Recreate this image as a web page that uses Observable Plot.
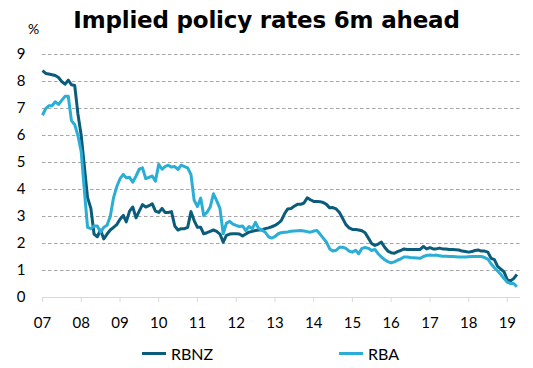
<!DOCTYPE html>
<html>
<head>
<meta charset="utf-8">
<script src="https://cdn.jsdelivr.net/npm/d3@7"></script>
<script src="https://cdn.jsdelivr.net/npm/@observablehq/plot@0.6"></script>
<style>
  body { margin: 0; background: #fff; }
  #wrap { position: relative; width: 533px; height: 368px; font-family: Lato, "Open Sans", sans-serif; color: #000; overflow: hidden; }
  #title { position: absolute; top: 7px; left: 0; width: 533px; text-align: center; font: bold 23px "DejaVu Sans", sans-serif; line-height: 26px; letter-spacing: -0.2px; }
  #pct { position: absolute; left: 28px; top: 21px; font-size: 14px; line-height: 16px; }
  #chart { position: absolute; top: 0; left: 0; }
  .lg { position: absolute; top: 345px; font-size: 16px; line-height: 18px; }
  .sw { position: absolute; top: 352px; width: 24px; height: 3px; }
</style>
</head>
<body>
<div id="wrap">
  <div id="chart"></div>
  <div id="title">Implied policy rates 6m ahead</div>
  <div id="pct">%</div>
  <div class="sw" id="sw1"></div><div class="lg" id="lg1"></div>
  <div class="sw" id="sw2"></div><div class="lg" id="lg2"></div>
</div>
<script>
// Monthly series, Jan 2007 onward (as labelled on the chart's axis)
const seriesNames = ["RBNZ", "RBA"];
const seriesColors = ["#0b5c7a", "#2aaed5"];
const rbnz = [
  8.40, 8.30, 8.28, 8.25, 8.22, 8.15, 8.00, 7.90, 8.05, 7.88, 7.85, 6.80,
  6.00, 4.80, 3.70, 3.30, 2.35, 2.25, 2.50, 2.17, 2.35, 2.50, 2.60, 2.70,
  2.90, 3.04, 2.80, 3.20, 3.35, 2.95, 3.20, 3.44, 3.35, 3.40, 3.47, 3.20,
  3.15, 3.30, 3.15, 3.15, 3.18, 2.65, 2.50, 2.55, 2.55, 2.60, 3.18, 2.85,
  2.60, 2.60, 2.36, 2.40, 2.45, 2.50, 2.45, 2.35, 2.05, 2.30, 2.35, 2.36,
  2.36, 2.35, 2.28, 2.35, 2.42, 2.45, 2.48, 2.50, 2.50, 2.55, 2.58, 2.62,
  2.67, 2.75, 2.85, 3.10, 3.28, 3.30, 3.38, 3.45, 3.45, 3.50, 3.69, 3.62,
  3.56, 3.56, 3.55, 3.52, 3.45, 3.32, 3.33, 3.28, 3.15, 2.93, 2.70, 2.58,
  2.52, 2.52, 2.50, 2.47, 2.40, 2.20, 2.00, 1.93, 1.98, 2.05, 1.86, 1.72,
  1.66, 1.64, 1.70, 1.74, 1.80, 1.78, 1.78, 1.78, 1.78, 1.78, 1.89, 1.80,
  1.85, 1.80, 1.80, 1.83, 1.80, 1.80, 1.78, 1.78, 1.77, 1.76, 1.72, 1.70,
  1.68, 1.70, 1.74, 1.76, 1.72, 1.72, 1.68, 1.45, 1.40, 1.15, 1.05, 0.95,
  0.65, 0.62, 0.70, 0.85
];
const rba = [
  6.75, 7.00, 7.10, 7.10, 7.25, 7.15, 7.30, 7.45, 7.45, 6.55, 6.40, 6.00,
  5.40, 3.90, 2.60, 2.55, 2.65, 2.65, 2.42, 2.60, 2.68, 3.00, 3.70, 4.10,
  4.40, 4.56, 4.43, 4.45, 4.27, 4.50, 4.75, 4.80, 4.40, 4.45, 4.50, 4.31,
  4.93, 4.75, 4.85, 4.90, 4.83, 4.85, 4.74, 4.90, 4.85, 4.80, 4.55, 3.60,
  3.37, 3.68, 3.04, 3.15, 3.35, 3.84, 3.59, 3.30, 2.36, 2.75, 2.82, 2.72,
  2.67, 2.63, 2.65, 2.48, 2.63, 2.55, 2.78, 2.55, 2.50, 2.42, 2.25, 2.20,
  2.26, 2.36, 2.40, 2.42, 2.43, 2.45, 2.46, 2.47, 2.48, 2.46, 2.44, 2.42,
  2.46, 2.48, 2.35, 2.20, 2.05, 1.80, 1.72, 1.75, 1.86, 1.86, 1.82, 1.72,
  1.68, 1.75, 1.62, 1.82, 1.85, 1.82, 1.74, 1.78, 1.62, 1.50, 1.40, 1.33,
  1.28, 1.32, 1.38, 1.43, 1.50, 1.50, 1.48, 1.47, 1.46, 1.45, 1.52, 1.56,
  1.57, 1.56, 1.57, 1.55, 1.53, 1.53, 1.52, 1.52, 1.51, 1.50, 1.50, 1.50,
  1.51, 1.52, 1.52, 1.52, 1.52, 1.48, 1.42, 1.25, 1.10, 0.98, 0.85, 0.70,
  0.56, 0.52, 0.52, 0.40
];
const xTickYears = [2007, 2008, 2009, 2010, 2011, 2012, 2013, 2014, 2015, 2016, 2017, 2018, 2019];
const xTickLabels = ["07","08","09","10","11","12","13","14","15","16","17","18","19"];
const yTicks = [0, 1, 2, 3, 4, 5, 6, 7, 8, 9];
const gridValues = [1, 2, 3, 4, 5, 6, 7, 8, 9];

const start = new Date(Date.UTC(2007, 0, 1));
const months = d3.utcMonth.range(start, d3.utcMonth.offset(start, rbnz.length));
const rows = [];
months.forEach((d, i) => {
  rows.push({date: d, value: rbnz[i], series: seriesNames[0]});
  rows.push({date: d, value: rba[i], series: seriesNames[1]});
});
const xTicks = xTickYears.map(y => new Date(Date.UTC(y, 0, 1)));
const labelOf = new Map(xTicks.map((d, i) => [+d, xTickLabels[i]]));

const chart = Plot.plot({
  width: 533,
  height: 338,
  marginLeft: 42,
  marginRight: 13,
  marginTop: 54,
  marginBottom: 41,
  style: {fontFamily: "Lato, 'Open Sans', sans-serif", fontSize: "15px", color: "#000", background: "transparent"},
  x: {type: "utc", domain: [start, new Date(Date.UTC(2019, 4, 5))]},
  y: {domain: [0, 9]},
  color: {domain: seriesNames, range: seriesColors},
  marks: [
    Plot.ruleY(gridValues, {stroke: "#a6a6a6", strokeWidth: 1, strokeDasharray: "3.5,2.5"}),
    Plot.ruleY([0], {stroke: "#d9d9d9", strokeWidth: 1}),
    Plot.axisX({ticks: xTicks, tickFormat: d => labelOf.get(+d), tickSize: 5, tickPadding: 15, stroke: "#d9d9d9", strokeOpacity: 1, label: null, fontSize: 15}),
    Plot.axisY({ticks: yTicks, tickSize: 0, tickPadding: 17, label: null, fontSize: 15}),
    Plot.line(rows, {x: "date", y: "value", z: "series", stroke: "series", strokeWidth: 3, strokeLinejoin: "round", strokeLinecap: "butt"})
  ]
});
document.getElementById("chart").appendChild(chart);

// legend
const sw1 = document.getElementById("sw1"), sw2 = document.getElementById("sw2");
const lg1 = document.getElementById("lg1"), lg2 = document.getElementById("lg2");
sw1.style.left = "142px"; sw1.style.background = seriesColors[0];
lg1.style.left = "171px"; lg1.textContent = seriesNames[0];
sw2.style.left = "339px"; sw2.style.background = seriesColors[1];
lg2.style.left = "368px"; lg2.textContent = seriesNames[1];
</script>
</body>
</html>
